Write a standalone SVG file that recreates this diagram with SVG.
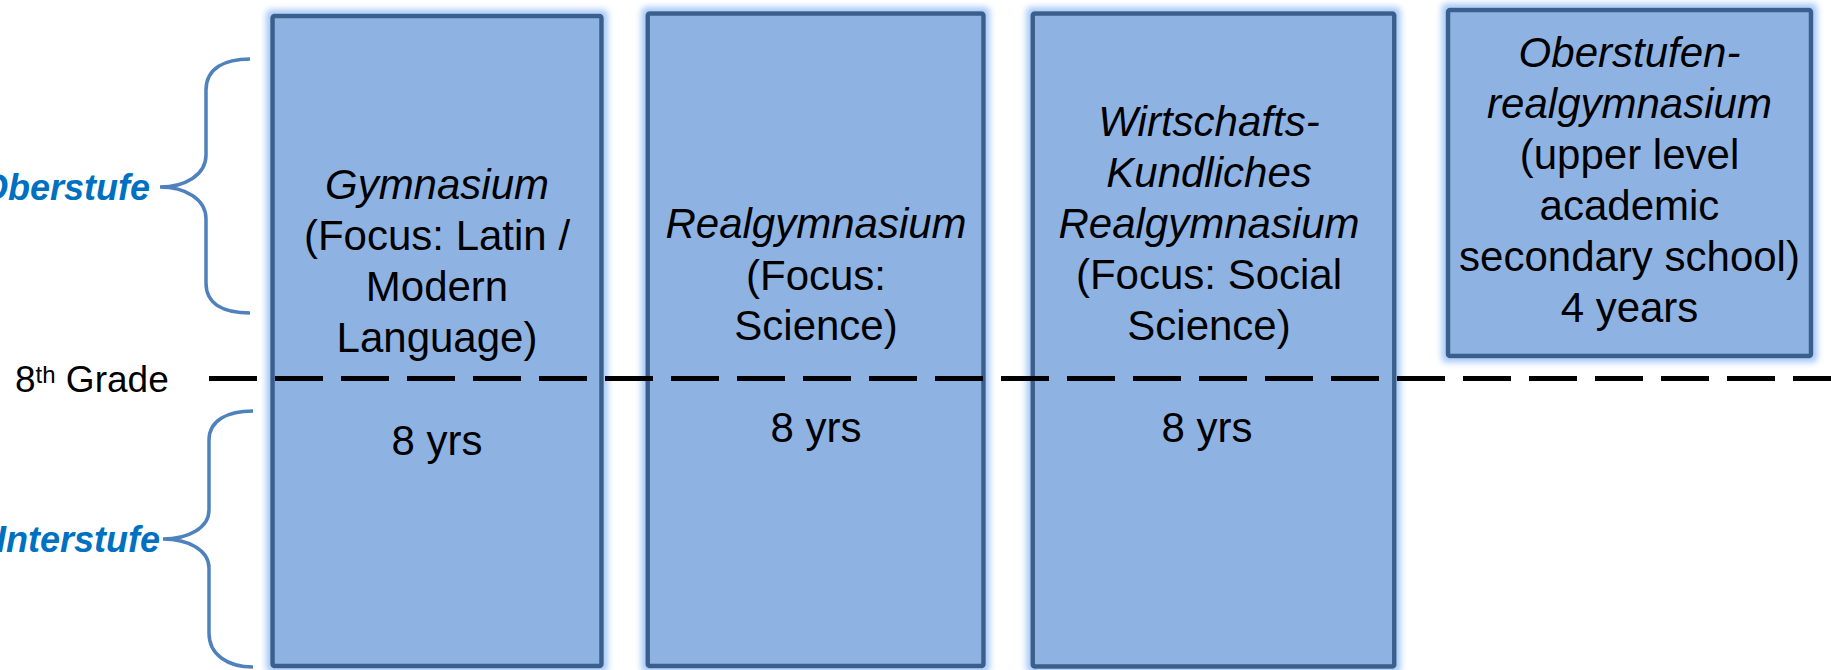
<svg xmlns="http://www.w3.org/2000/svg" width="1831" height="670" viewBox="0 0 1831 670">
<defs>
<filter id="glow" x="-10%" y="-10%" width="120%" height="120%">
<feMorphology in="SourceAlpha" operator="dilate" radius="4" result="d"/>
<feGaussianBlur in="d" stdDeviation="3" result="b"/>
<feFlood flood-color="#a3c7f7"/>
<feComposite in2="b" operator="in" result="g"/>
<feMerge><feMergeNode in="g"/><feMergeNode in="SourceGraphic"/></feMerge>
</filter>
<style>
.box{fill:#8eb3e2;stroke:#3b5f8c;stroke-width:4.5;filter:url(#glow)}
.t{font-family:"Liberation Sans",Arial,sans-serif;font-size:42px;fill:#000;text-anchor:middle}
.i{font-style:italic}
.lbl{font-family:"Liberation Sans",Arial,sans-serif;font-size:36px;font-weight:bold;font-style:italic;fill:#0070c0;text-anchor:end}
.brace{fill:none;stroke:#4f81bd;stroke-width:3.5}
</style>
</defs>
<rect width="1831" height="670" fill="#fff"/>

<g id="box-gymnasium">
<rect class="box" x="272.5" y="16" width="329" height="650" rx="2"/>
<text class="t i" x="437" y="199">Gymnasium</text>
<text class="t" x="437" y="250">(Focus: Latin /</text>
<text class="t" x="437" y="301">Modern</text>
<text class="t" x="437" y="352">Language)</text>
<text class="t" x="437" y="455">8 yrs</text>
</g>

<g id="box-realgymnasium">
<rect class="box" x="647.7" y="13.5" width="335.8" height="652.5" rx="2"/>
<text class="t i" x="816" y="238">Realgymnasium</text>
<text class="t" x="816" y="290">(Focus:</text>
<text class="t" x="816" y="340">Science)</text>
<text class="t" x="816" y="442">8 yrs</text>
</g>

<g id="box-wirtschafts">
<rect class="box" x="1032.7" y="13.5" width="361.6" height="653" rx="2"/>
<text class="t i" x="1209" y="136">Wirtschafts-</text>
<text class="t i" x="1209" y="187">Kundliches</text>
<text class="t i" x="1209" y="238">Realgymnasium</text>
<text class="t" x="1209" y="289">(Focus: Social</text>
<text class="t" x="1209" y="340">Science)</text>
<text class="t" x="1207" y="442">8 yrs</text>
</g>

<g id="box-oberstufen">
<rect class="box" x="1448" y="10" width="363" height="346" rx="2"/>
<text class="t i" x="1629.5" y="67">Oberstufen-</text>
<text class="t i" x="1629.5" y="118">realgymnasium</text>
<text class="t" x="1629.5" y="169">(upper level</text>
<text class="t" x="1629.5" y="220">academic</text>
<text class="t" x="1629.5" y="271">secondary school)</text>
<text class="t" x="1629.5" y="322">4 years</text>
</g>

<g id="connectors">
<line x1="209" y1="378.5" x2="1831" y2="378.5" stroke="#000" stroke-width="5" stroke-dasharray="48 18"/>
<path class="brace" d="M250,59 C225,59 206,68 206,90 L206,155 C206,175 185,187 160,187 C185,187 206,199 206,219 L206,283 C206,305 225,313 250,313"/>
<path class="brace" d="M253,411 C228,411 209,420 209,440 L209,510 C209,528 188,539 163,539 C188,539 209,550 209,568 L209,633 C209,655 228,667 253,667"/>
</g>

<g id="labels">
<text x="15" y="392" font-family="'Liberation Sans',Arial,sans-serif" font-size="37" fill="#000">8<tspan font-size="24" dy="-9">th</tspan><tspan dy="9"> Grade</tspan></text>
<text class="lbl" x="150" y="200">Oberstufe</text>
<text class="lbl" x="160" y="552">Interstufe</text>
</g>
</svg>
